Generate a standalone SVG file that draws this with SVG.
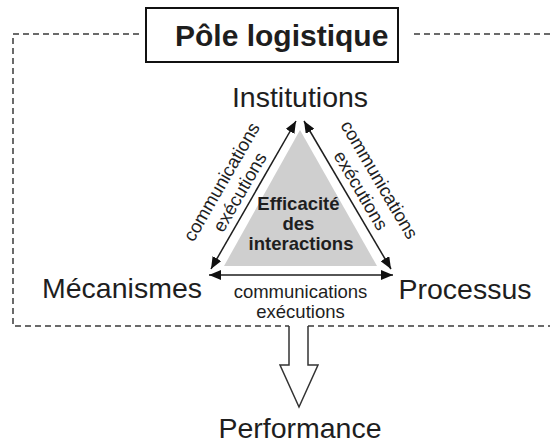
<svg xmlns="http://www.w3.org/2000/svg" width="550" height="447" viewBox="0 0 550 447">
  <style>
    .lbl { font-family: "Liberation Sans", Arial, sans-serif; fill: #1e1e1e; }
    .big { font-size: 28.5px; }
    .edge { font-size: 18.5px; }
    .bold { font-weight: bold; }
    .dash { fill: none; stroke: #3a3a3a; stroke-width: 1.5; stroke-dasharray: 6 4; }
    .conn { fill: none; stroke: #1e1e1e; stroke-width: 1.5; }
  </style>
  <defs>
    <marker id="ah" viewBox="0 0 12 10" refX="12" refY="5" markerWidth="12" markerHeight="10" markerUnits="userSpaceOnUse" orient="auto-start-reverse">
      <path d="M0,0 L12,5 L0,10 z" fill="#111"/>
    </marker>
  </defs>
  <rect width="550" height="447" fill="#fff"/>

  <g id="pole-frame">
    <path class="dash" d="M139,34 H13 V326 H289 M308,326 H550 M550,34 H413"/>
  </g>

  <g id="pole-logistique">
    <rect x="146" y="8" width="252" height="54" fill="#fff" stroke="#111" stroke-width="2"/>
    <text class="lbl bold" x="175" y="46" font-size="30">Pôle logistique</text>
  </g>

  <g id="efficacite">
    <polygon points="300,130 224,266 377,266" fill="#cfcfcf"/>
    <text class="lbl bold" text-anchor="middle" font-size="18.5">
      <tspan x="301" y="210">Efficacité</tspan>
      <tspan x="301" y="230">des</tspan>
      <tspan x="301" y="250">interactions</tspan>
    </text>
  </g>

  <g id="institutions">
    <text class="lbl big" x="300" y="107" text-anchor="middle">Institutions</text>
  </g>
  <g id="mecanismes">
    <text class="lbl big" x="122" y="298" text-anchor="middle">Mécanismes</text>
  </g>
  <g id="processus">
    <text class="lbl big" x="465" y="299" text-anchor="middle">Processus</text>
  </g>
  <g id="performance">
    <text class="lbl big" x="300" y="438" text-anchor="middle">Performance</text>
  </g>

  <g id="connectors">
    <line class="conn" x1="211" y1="269" x2="296" y2="121" marker-start="url(#ah)" marker-end="url(#ah)"/>
    <line class="conn" x1="304" y1="121" x2="391" y2="269" marker-start="url(#ah)" marker-end="url(#ah)"/>
    <line class="conn" x1="209" y1="275" x2="393" y2="275" marker-start="url(#ah)" marker-end="url(#ah)"/>
    <path d="M289,326 V365 H280 L299,407 L318,365 H308 V326" fill="#fff" stroke="#333" stroke-width="1.5" stroke-linejoin="miter"/>
  </g>

  <g id="edge-labels">
    <text class="lbl edge" text-anchor="middle" transform="translate(227,185) rotate(-60)">communications</text>
    <text class="lbl edge" text-anchor="middle" transform="translate(245.2,195.3) rotate(-60)">exécutions</text>
    <text class="lbl edge" text-anchor="middle" transform="translate(374,182.8) rotate(59.5)">communications</text>
    <text class="lbl edge" text-anchor="middle" transform="translate(355.5,193.7) rotate(59.5)">exécutions</text>
    <text class="lbl edge" x="300.5" y="298" text-anchor="middle">communications</text>
    <text class="lbl edge" x="300.5" y="318" text-anchor="middle">exécutions</text>
  </g>
</svg>
